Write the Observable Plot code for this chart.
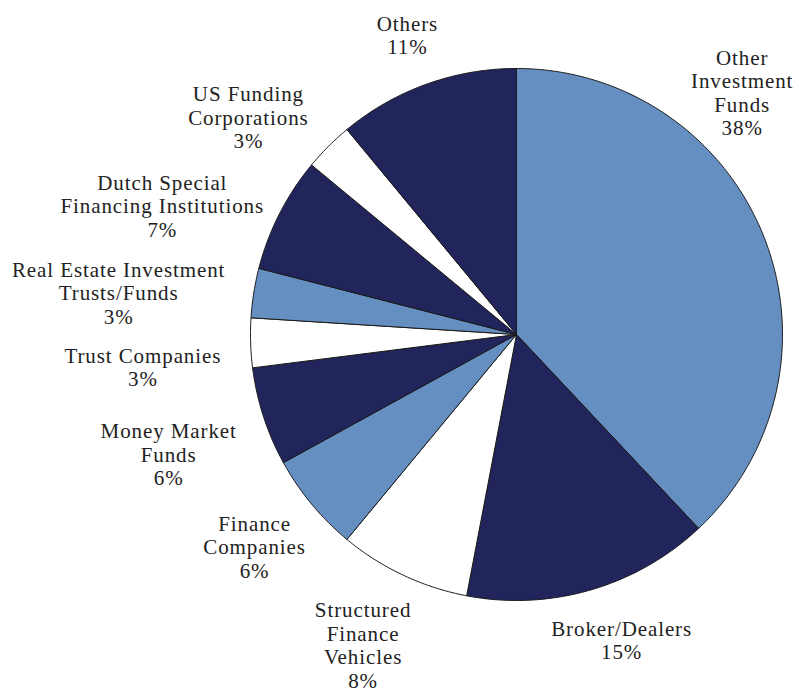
<!DOCTYPE html>
<html>
<head>
<meta charset="utf-8">
<script src="https://cdn.jsdelivr.net/npm/d3@7"></script>
<script src="https://cdn.jsdelivr.net/npm/@observablehq/plot@0.6"></script>
<style>
  html, body { margin: 0; padding: 0; background: #fff; }
  #chart { width: 799px; height: 693px; }
  #chart svg text { letter-spacing: 0.9px; }
</style>
</head>
<body>
<div id="chart"></div>
<script>
// ---- data ----
const categories = [
  "Other\nInvestment\nFunds",
  "Broker/Dealers",
  "Structured\nFinance\nVehicles",
  "Finance\nCompanies",
  "Money Market\nFunds",
  "Trust Companies",
  "Real Estate Investment\nTrusts/Funds",
  "Dutch Special\nFinancing Institutions",
  "US Funding\nCorporations",
  "Others"
];
const values = [38, 15, 8, 6, 6, 3, 3, 7, 3, 11];

// ---- styling / layout ----
const LIGHT = "#658fc0", NAVY = "#21255c", WHITE = "#ffffff";
const palette = [LIGHT, NAVY, WHITE, LIGHT, NAVY, WHITE, LIGHT, NAVY, WHITE, NAVY];
// label placement: angle (deg, clockwise from top) and radius (in pie radii)
const labelAngle = [43, 161, 206.3, 231, 251, 265, 276, 290, 309, 340];
const labelRadius = [1.244, 1.214, 1.302, 1.267, 1.383, 1.41, 1.504, 1.417, 1.297, 1.199];

const total = d3.sum(values);
const arcs = d3.pie().sort(null).value(d => d)(values);

// polygon vertices for each slice, in unit-circle coordinates
const slicePts = [];
arcs.forEach((a, i) => {
  const id = i;
  slicePts.push({id, x: 0, y: 0, fill: palette[i]});
  const n = Math.max(2, Math.ceil((a.endAngle - a.startAngle) / (Math.PI / 360)));
  for (let k = 0; k <= n; k++) {
    const t = a.startAngle + (a.endAngle - a.startAngle) * k / n;
    slicePts.push({id, x: Math.sin(t), y: Math.cos(t), fill: palette[i]});
  }
  slicePts.push({id, x: 0, y: 0, fill: palette[i]});
});

const labels = categories.map((c, i) => {
  const t = labelAngle[i] * Math.PI / 180;
  return {
    text: c + "\n" + Math.round(values[i] / total * 100) + "%",
    x: labelRadius[i] * Math.sin(t),
    y: labelRadius[i] * Math.cos(t)
  };
});

const cx = 516, cy = 334, R = 266;
const chart = Plot.plot({
  width: 799,
  height: 693,
  margin: 0,
  x: {domain: [-1, 1], range: [cx - R, cx + R], axis: null},
  y: {domain: [1, -1], range: [cy - R, cy + R], axis: null},
  color: {type: "identity"},
  style: {fontFamily: "'Liberation Serif', 'DejaVu Serif', serif", background: "#fff"},
  marks: [
    Plot.line(slicePts, {x: "x", y: "y", z: "id", fill: "fill", stroke: "#1a1a1a", strokeWidth: 1, curve: "linear"}),
    Plot.text(labels, {x: "x", y: "y", text: "text", fontSize: 21, lineHeight: 1.12, fill: "#222", textAnchor: "middle", lineAnchor: "middle"})
  ]
});
document.getElementById("chart").appendChild(chart);
</script>
</body>
</html>
